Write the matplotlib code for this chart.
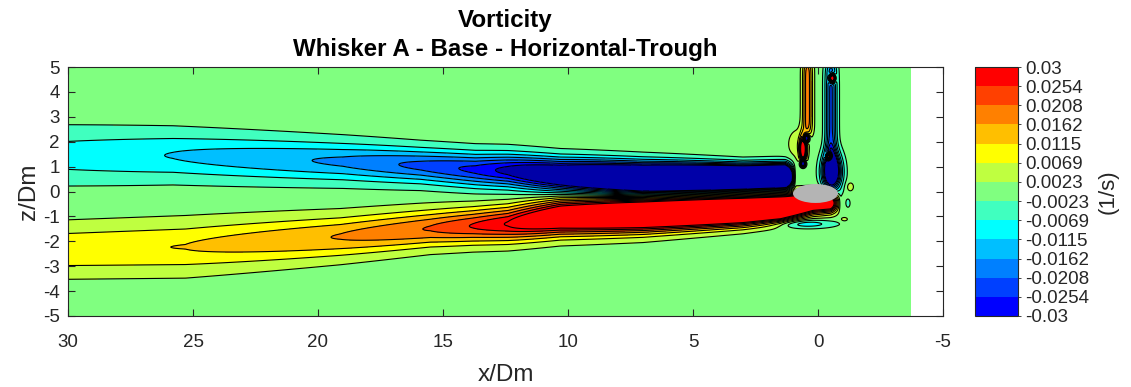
import numpy as np
import matplotlib
matplotlib.use("Agg")
import matplotlib.pyplot as plt
from matplotlib.colors import ListedColormap, BoundaryNorm
from matplotlib.patches import Ellipse
import matplotlib.cm as cm

plt.rcParams['font.family'] = ['Liberation Sans', 'DejaVu Sans']
plt.rcParams['contour.negative_linestyle'] = 'solid'

# ---------------- data ----------------
title_lines = ["Vorticity", "Whisker A - Base - Horizontal-Trough"]
x_label = "x/Dm"
z_label = "z/Dm"
cbar_label = "(1/s)"

x_ticks = [30, 25, 20, 15, 10, 5, 0, -5]
z_ticks = [5, 4, 3, 2, 1, 0, -1, -2, -3, -4, -5]

levels = [-0.03, -0.0254, -0.0208, -0.0162, -0.0115, -0.0069, -0.0023,
          0.0023, 0.0069, 0.0115, 0.0162, 0.0208, 0.0254, 0.03]
level_labels = ["-0.03", "-0.0254", "-0.0208", "-0.0162", "-0.0115", "-0.0069", "-0.0023",
                "0.0023", "0.0069", "0.0115", "0.0162", "0.0208", "0.0254", "0.03"]

band_colors = ["#0000FF", "#0040FF", "#0080FF", "#00BFFF", "#00FFFF", "#40FFBF",
               "#80FF80", "#BFFF40", "#FFFF00", "#FFBF00", "#FF8000", "#FF4000", "#FF0000"]
under_color = "#0000A8"
over_color = "#FF0000"

x_data_end = -3.7   # measured field stops here (white beyond)

# upper (negative vorticity) shear layer, per streamwise station
up_x = [-3.7, 0.9, 1.3, 3.0, 7.0, 10.3, 12.4, 13.7, 15.9, 19.0, 25.8, 30.0]
up_c = [0.6, 0.6, 0.6, 0.55, 0.5, 0.65, 0.84, 0.88, 1.04, 1.2, 1.45, 1.45]
up_a = [0.0, 0.0, 0.10, 0.11, 0.075, 0.046, 0.032, 0.0268, 0.0222, 0.0172, 0.0117, 0.0092]
up_s = [0.3, 0.3, 0.3, 0.3, 0.41, 0.44, 0.46, 0.47, 0.48, 0.54, 0.66, 0.74]

# lower (positive vorticity) shear layer
lo_x = [-3.7, -0.9, -0.5, 0.2, 1.5, 3.0, 7.0, 10.3, 12.4, 13.8, 15.5, 19.1, 25.3, 30.0]
lo_c = [-0.45, -0.45, -0.45, -0.45, -0.65, -0.75, -0.9, -1.02, -1.3, -1.38, -1.48, -1.81, -2.22, -2.33]
lo_a = [0.0, 0.0, 0.05, 0.055, 0.082, 0.08, 0.064, 0.047, 0.0305, 0.0258, 0.0212, 0.0165, 0.0116, 0.0108]
lo_s = [0.25, 0.25, 0.25, 0.28, 0.318, 0.356, 0.446, 0.476, 0.48, 0.48, 0.5, 0.57, 0.7, 0.68]

# local structures near the whisker base
feat_x = [-0.52, -0.55, -0.57, -0.44, 0.42, 0.6, 0.47, 0.6, 0.8, -1.28, -1.2, -1.05, 0.5]
feat_z = [2.9, 0.8, 4.55, 1.4, 3.8, 1.7, 2.14, 1.13, 1.9, 0.19, -0.47, -1.12, -1.3]
feat_amp = [-0.022, -0.05, 0.08, 0.08, 0.019, 0.045, -0.06, -0.06, 0.005, 0.0045, -0.0045, 0.0045, -0.01]
feat_sx = [0.16, 0.25, 0.07, 0.07, 0.14, 0.09, 0.07, 0.07, 0.3, 0.12, 0.07, 0.12, 0.8]
feat_sz = [2.2, 0.5, 0.1, 0.1, 1.4, 0.35, 0.1, 0.1, 0.45, 0.15, 0.14, 0.07, 0.12]
feat_p = [8, 2, 2, 2, 8, 2, 2, 2, 2, 2, 2, 2, 2]

whisker_center = (0.1, -0.08)
whisker_width = 1.8
whisker_height = 0.76
whisker_color = "#B4B4B4"

# ---------------- build field ----------------
xg = np.linspace(x_data_end, 30, 900)
zg = np.linspace(-5, 5, 600)
X, Z = np.meshgrid(xg, zg)

def layer(xs, cs, as_, ss):
    c = np.interp(xg, xs, cs)[None, :]
    a = np.interp(xg, xs, as_)[None, :]
    s = np.interp(xg, xs, ss)[None, :]
    return a * np.exp(-0.5 * ((Z - c) / s) ** 2)

W = -layer(up_x, up_c, up_a, up_s) + layer(lo_x, lo_c, lo_a, lo_s)
for fx, fz, fa, sx, sz, p in zip(feat_x, feat_z, feat_amp, feat_sx, feat_sz, feat_p):
    W = W + fa * np.exp(-0.5 * (((X - fx) / sx) ** 2 + np.abs((Z - fz) / sz) ** p))

# ---------------- plot ----------------
fig = plt.figure(figsize=(11.31, 3.87), dpi=100)
ax = fig.add_axes([68 / 1131, 1 - 316 / 387, (943 - 68) / 1131, (316 - 67) / 387])

cmap = ListedColormap(band_colors)
cmap.set_under(under_color)
cmap.set_over(over_color)
norm = BoundaryNorm(levels, cmap.N, extend='neither')

ax.contourf(X, Z, W, levels=levels, cmap=cmap, norm=norm, extend='both')
ax.contour(X, Z, W, levels=levels, colors='k', linewidths=0.8, linestyles='solid')
ax.add_patch(Ellipse(whisker_center, whisker_width, whisker_height,
                     facecolor=whisker_color, edgecolor='none', zorder=5))

ax.set_xlim(30, -5)
ax.set_ylim(-5, 5)
ax.set_xticks(x_ticks)
ax.set_xticklabels([str(v) for v in x_ticks])
ax.set_yticks(z_ticks)
ax.set_yticklabels([str(v) for v in z_ticks])
ax.tick_params(direction='in', length=5, width=0.8, top=True, right=True,
               labelsize=13.5, colors='#262626')
ax.tick_params(axis='x', pad=13)
ax.tick_params(axis='y', pad=6)
for sp in ax.spines.values():
    sp.set_color('#262626')
    sp.set_linewidth(0.8)
ax.set_xlabel(x_label, fontsize=17.5, color='#262626', labelpad=9)
ax.set_ylabel(z_label, fontsize=17.5, color='#262626', labelpad=2)
ax.set_title(title_lines[0] + "\n" + title_lines[1], fontsize=17.4, fontweight='bold',
             color='black', pad=8, linespacing=1.33)

cax = fig.add_axes([975 / 1131, 1 - 316 / 387, 43 / 1131, (316 - 67) / 387])
sm = cm.ScalarMappable(norm=BoundaryNorm(levels, cmap.N), cmap=ListedColormap(band_colors))
cb = fig.colorbar(sm, cax=cax, ticks=levels)
cb.ax.set_yticklabels(level_labels)
cb.ax.tick_params(labelsize=13.5, length=2, width=0.6, colors='#262626', pad=3)
cb.outline.set_edgecolor('#262626')
cb.outline.set_linewidth(0.8)
cb.set_label(cbar_label, fontsize=16, color='#262626', rotation=90, labelpad=6)

fig.savefig("out.png", dpi=100)
